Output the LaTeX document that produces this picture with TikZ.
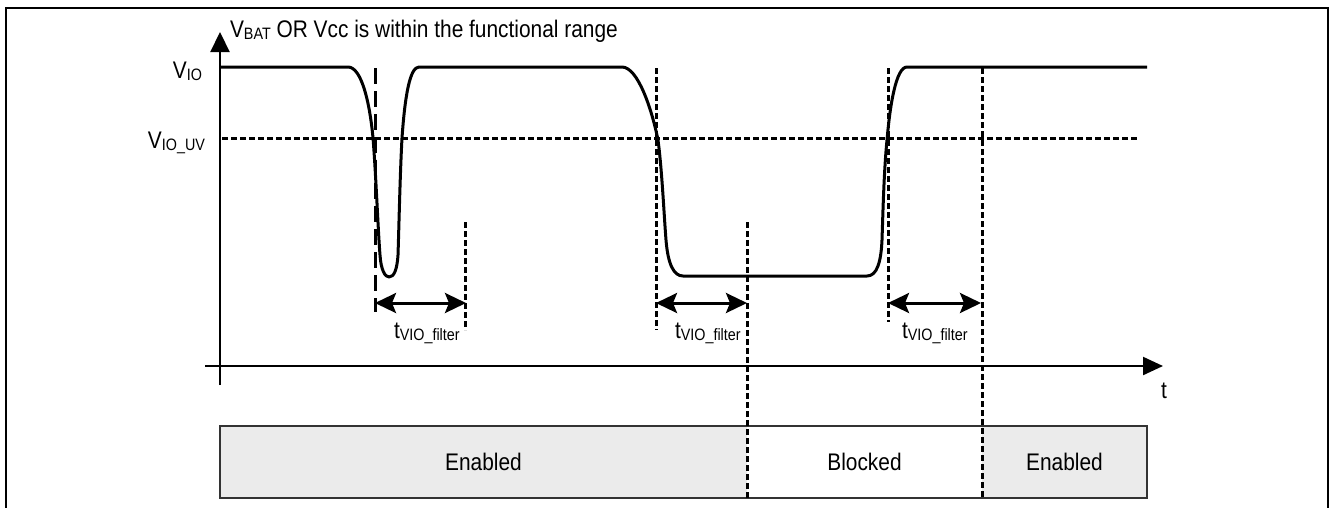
\documentclass[tikz,border=0pt]{standalone}
\usepackage{fontspec}
\setmainfont{Liberation Sans}[FakeStretch=0.87]
\usetikzlibrary{arrows.meta}
\definecolor{boxgray}{HTML}{EBEBEB}
\newcommand\sbs[1]{\raisebox{-2.5pt}{\fontsize{16.5}{17}\selectfont #1}}
\begin{document}
\begin{tikzpicture}[x=1pt,y=-1pt,
  every node/.style={inner sep=0pt, outer sep=0pt, font=\fontsize{24}{27}\selectfont},
  wave/.style={line width=3pt, line join=round},
  axisline/.style={line width=2.2pt},
  thr/.style={line width=3pt, dash pattern=on 6pt off 3pt},
  vmark/.style={line width=3pt, dash pattern=on 6pt off 3pt},
  vlong/.style={line width=3pt, dash pattern=on 16pt off 7pt},
  dim/.style={line width=3pt, {Stealth[length=21pt,width=20pt,inset=4pt]}-{Stealth[length=21pt,width=20pt,inset=4pt]}},
  bx/.style={minimum height=72pt, anchor=north west},
  bline/.style={line width=1.6pt, draw=black!80}]
\useasboundingbox (0,0) rectangle (1332,507);
% frame
\draw[line width=1.6pt] (6,530) -- (6,8) -- (1328,8) -- (1328,530);

% state boxes
\node[bx, fill=boxgray, minimum width=527pt] (en1) at (220,426) {Enabled};
\node[bx, fill=white, minimum width=235pt] (bl) at (747,426) {Blocked};
\node[bx, fill=boxgray, minimum width=165pt] (en2) at (982,426) {Enabled};
\draw[bline] (en1.north east) -- (en1.north west) -- (en1.south west) -- (en1.south east);
\draw[bline] (bl.north west) -- (bl.north east) (bl.south west) -- (bl.south east);
\draw[bline] (en2.north west) -- (en2.north east) -- (en2.south east) -- (en2.south west);

% axes
\coordinate (yb) at (220,385);
\coordinate (yt) at (220,32);
\coordinate (xl) at (205,366);
\coordinate (xr) at (1163,366);
\draw[axisline, -{Triangle[length=20pt,width=19pt]}] (yb) -- (yt);
\draw[axisline, -{Triangle[length=20pt,width=18pt]}] (xl) -- (xr);
\node[anchor=base west] (tlab) at (1161,398) {t};
\node[anchor=base west] (title) at (230,37) {V\sbs{BAT} OR Vcc is within the functional range};
\node[anchor=base east] (vio) at (202,78) {V\sbs{IO}};
\node[anchor=base east] (viouv) at (205,148) {V\sbs{IO\_UV}};

% threshold
\coordinate (th1) at (222,138);
\coordinate (th2) at (1137,138);
\draw[thr] (th1) -- (th2);

% vertical markers
\coordinate (m1t) at (375,68);  \coordinate (m1b) at (375,312);
\coordinate (m2t) at (465,222); \coordinate (m2b) at (465,330);
\coordinate (m3t) at (656,68);  \coordinate (m3b) at (656,330);
\coordinate (m4t) at (747,222); \coordinate (m4b) at (747,498);
\coordinate (m5t) at (888,68);  \coordinate (m5b) at (888,322);
\coordinate (m6t) at (982,68);  \coordinate (m6b) at (982,498);
\draw[vlong] (m1t) -- (m1b);
\draw[vmark] (m2t) -- (m2b);
\draw[vmark] (m3t) -- (m3b);
\draw[vmark] (m4t) -- (m4b);
\draw[vmark] (m5t) -- (m5b);
\draw[vmark] (m6t) -- (m6b);

% waveform
\coordinate (w0) at (220,67);
\coordinate (w1) at (348,67);
\coordinate (w2) at (419,67);
\coordinate (w3) at (622,67);
\coordinate (w4) at (683,276);
\coordinate (w5) at (867,276);
\coordinate (w6) at (907,67);
\coordinate (w7) at (1147,67);
\draw[wave] (w0) -- (w1)
  .. controls (362,67) and (370,105) .. (373,138)
  .. controls (376,175) and (378,230) .. (380,255)
  .. controls (381,270) and (385,277) .. (389,277)
  .. controls (394,277) and (397,270) .. (398,255)
  .. controls (399,225) and (400,175) .. (402,138)
  .. controls (405,95) and (410,67) .. (w2)
  -- (w3)
  .. controls (638,67) and (652,110) .. (658,140)
  .. controls (662,170) and (664,215) .. (666,240)
  .. controls (668,265) and (674,276) .. (w4)
  -- (w5)
  .. controls (877,276) and (881,262) .. (882,240)
  .. controls (883,210) and (884,170) .. (887,140)
  .. controls (890,105) and (896,67) .. (w6)
  -- (w7);

% filter time arrows
\coordinate (a1l) at (375,303); \coordinate (a1r) at (466,303);
\coordinate (a2l) at (656,303); \coordinate (a2r) at (747,303);
\coordinate (a3l) at (888,303); \coordinate (a3r) at (981,303);
\draw[dim] (a1l) -- (a1r);
\draw[dim] (a2l) -- (a2r);
\draw[dim] (a3l) -- (a3r);
\node[anchor=base west] (f1) at (394,338) {t\sbs{VIO\_filter}};
\node[anchor=base west] (f2) at (675,338) {t\sbs{VIO\_filter}};
\node[anchor=base west] (f3) at (902,338) {t\sbs{VIO\_filter}};
\end{tikzpicture}
\end{document}
